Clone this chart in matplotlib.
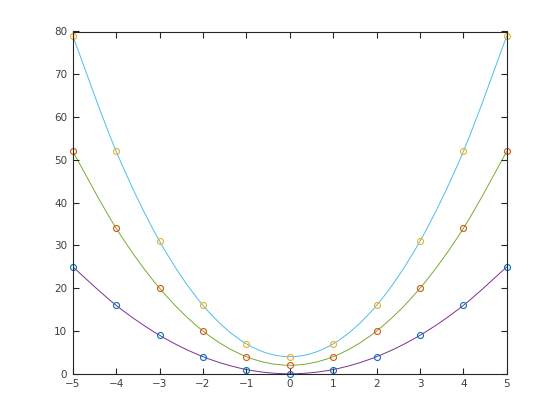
import numpy as np
import matplotlib
matplotlib.use("Agg")
import matplotlib.pyplot as plt
from matplotlib.path import Path
from matplotlib.patches import PathPatch

x = [-5, -4, -3, -2, -1, 0, 1, 2, 3, 4, 5]
y1 = [25, 16, 9, 4, 1, 0, 1, 4, 9, 16, 25]
y2 = [52, 34, 20, 10, 4, 2, 4, 10, 20, 34, 52]
y3 = [79, 52, 31, 16, 7, 4, 7, 16, 31, 52, 79]
xticks = [-5, -4, -3, -2, -1, 0, 1, 2, 3, 4, 5]
yticks = [0, 10, 20, 30, 40, 50, 60, 70, 80]

marker_colors = ["#0072bd", "#d95319", "#edb120"]
line_colors = ["#7e2f8e", "#77ac30", "#4dbeee"]

fig = plt.figure(figsize=(5.6, 4.2), dpi=100)
ax = fig.add_axes([0.13, 0.11, 0.775, 0.815])


def smooth_path(xs, ys):
    P = np.column_stack([xs, ys]).astype(float)
    n = len(P)
    verts = [P[0]]
    codes = [Path.MOVETO]
    for i in range(n - 1):
        p0 = P[i - 1] if i > 0 else P[i]
        p1 = P[i]
        p2 = P[i + 1]
        p3 = P[i + 2] if i + 2 < n else P[i + 1]
        c1 = p1 + (p2 - p0) / 6.0
        c2 = p2 - (p3 - p1) / 6.0
        verts += [c1, c2, p2]
        codes += [Path.CURVE4] * 3
    return Path(verts, codes)


for ys, lc, mc in zip([y1, y2, y3], line_colors, marker_colors):
    patch = PathPatch(smooth_path(x, ys), facecolor="none", edgecolor=lc, lw=0.7)
    ax.add_patch(patch)
    ax.plot(x, ys, linestyle="none", marker="o", markersize=4.3,
            markerfacecolor="none", markeredgecolor=mc, markeredgewidth=0.8,
            clip_on=False)

ax.set_xlim(-5, 5)
ax.set_ylim(0, 80)
ax.set_xticks(xticks)
ax.set_yticks(yticks)
ax.tick_params(direction="in", top=True, right=True, length=4, width=0.8,
               labelsize=7.5, colors="#262626", labelcolor="#404040", pad=4)
for s in ax.spines.values():
    s.set_linewidth(0.8)
    s.set_color("#262626")

fig.savefig("out.png", dpi=100)
